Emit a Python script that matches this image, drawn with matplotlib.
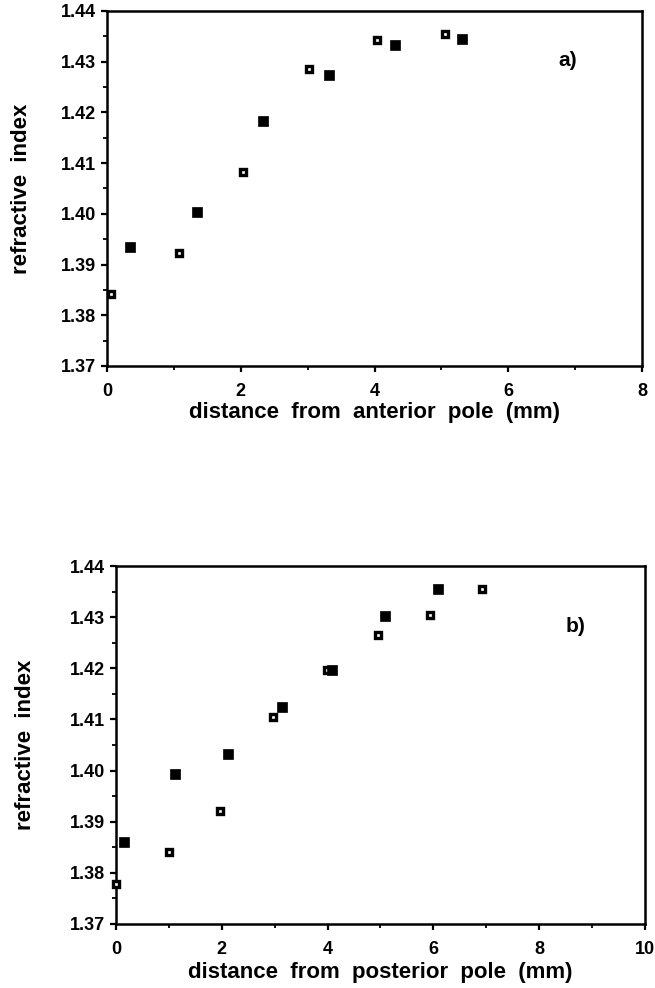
import matplotlib
matplotlib.use("Agg")
import matplotlib.pyplot as plt
from matplotlib.ticker import MultipleLocator, FormatStrFormatter

plt.rcParams['font.family'] = ['Liberation Sans', 'DejaVu Sans']
plt.rcParams['font.weight'] = 'bold'

# panel a) distance from anterior pole
a_open_x = [0.06, 1.08, 2.03, 3.02, 4.03, 5.05]
a_open_y = [1.3841, 1.3922, 1.4083, 1.4285, 1.4343, 1.4355]
a_fill_x = [0.35, 1.35, 2.33, 3.32, 4.30, 5.31]
a_fill_y = [1.3934, 1.4003, 1.4183, 1.4274, 1.4332, 1.4345]

# panel b) distance from posterior pole
b_open_x = [0.0, 1.0, 1.97, 2.96, 3.98, 4.95, 5.93, 6.92]
b_open_y = [1.3778, 1.3841, 1.3921, 1.4104, 1.4196, 1.4265, 1.4305, 1.4355]
b_fill_x = [0.16, 1.12, 2.11, 3.14, 4.08, 5.09, 6.09]
b_fill_y = [1.3860, 1.3993, 1.4032, 1.4124, 1.4196, 1.4302, 1.4355]

fig = plt.figure(figsize=(6.55, 9.88), dpi=100)
axa = fig.add_axes([0.1634, 0.6296, 0.8168, 0.3593])
axb = fig.add_axes([0.1771, 0.0648, 0.8076, 0.3623])

def style(ax, xmax, xlabel, tag, tagx, tagy, ylab_x, xlab_y):
    ax.set_xlim(0, xmax)
    ax.set_ylim(1.37, 1.44)
    ax.xaxis.set_major_locator(MultipleLocator(2))
    ax.xaxis.set_minor_locator(MultipleLocator(1))
    ax.yaxis.set_major_locator(MultipleLocator(0.01))
    ax.yaxis.set_minor_locator(MultipleLocator(0.005))
    ax.yaxis.set_major_formatter(FormatStrFormatter('%.2f'))
    ax.tick_params(which='major', direction='out', length=4, width=1.6, labelsize=13)
    ax.tick_params(which='minor', direction='out', length=3, width=1.3)
    ax.tick_params(axis='x', which='major', pad=8)
    ax.tick_params(axis='y', which='major', pad=4)
    for lab in ax.get_xticklabels() + ax.get_yticklabels():
        lab.set_fontweight('bold')
    for s in ax.spines.values():
        s.set_linewidth(1.8)
    ax.set_xlabel(xlabel, fontsize=16, fontweight='bold', va='center')
    ax.set_ylabel('refractive  index', fontsize=16, fontweight='bold', va='center')
    ax.xaxis.set_label_coords(0.5, xlab_y)
    ax.yaxis.set_label_coords(ylab_x, 0.5)
    ax.text(tagx, tagy, tag, fontsize=15, fontweight='bold', ha='left', va='center')

axa.plot(a_open_x, a_open_y, 's', ms=5, mfc='white', mec='black', mew=2.4, ls='none',
         zorder=3, clip_on=False)
axa.plot(a_fill_x, a_fill_y, 's', ms=7, mfc='black', mec='black', mew=0.5, ls='none', zorder=3)
style(axa, 8, 'distance  from  anterior  pole  (mm)', 'a)', 6.75, 1.4303, -0.159, -0.132)

axb.plot(b_open_x, b_open_y, 's', ms=5, mfc='white', mec='black', mew=2.4, ls='none',
         zorder=3, clip_on=False)
axb.plot(b_fill_x, b_fill_y, 's', ms=7, mfc='black', mec='black', mew=0.5, ls='none', zorder=3)
style(axb, 10, 'distance  from  posterior  pole  (mm)', 'b)', 8.5, 1.4282, -0.172, -0.136)

fig.savefig('out.png', dpi=100)
